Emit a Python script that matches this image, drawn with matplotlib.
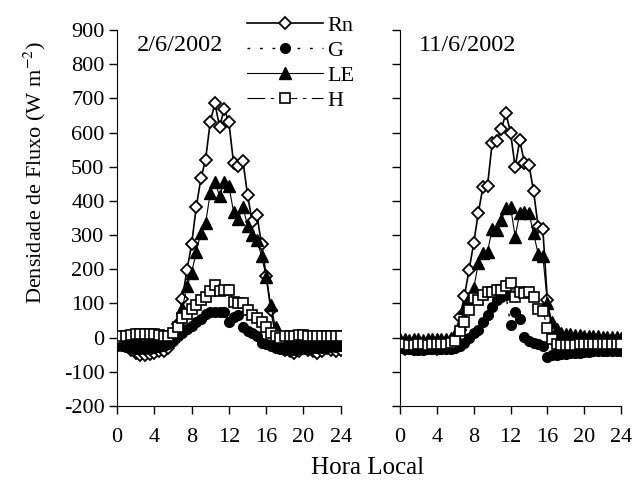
import numpy as np
import matplotlib
matplotlib.use("Agg")
import matplotlib.pyplot as plt

plt.rcParams['font.family'] = ['Liberation Serif', 'DejaVu Serif']
plt.rcParams['mathtext.fontset'] = 'stix'
plt.rcParams['axes.unicode_minus'] = False

# half-hourly local time
hora = np.arange(0, 24.5, 0.5)

# 2/6/2002
rn_a = [-15, -20, -25, -35, -45, -50, -50, -48, -45, -40, -38, -30,
        -10, 40, 114, 198, 273, 383, 466, 521, 632, 685, 617, 669,
        630, 510, 502, 518, 417, 339, 359, 273, 180, 80, 10, -20,
        -35, -40, -45, -40, -30, -35, -40, -45, -40, -30, -35, -40, -35]
g_a = [-25, -25, -28, -30, -32, -32, -33, -32, -30, -28, -25, -20,
       -10, 5, 15, 25, 35, 45, 55, 68, 76, 76, 76, 74,
       46, 60, 66, 32, 20, 15, 5, -16, -20, -25, -30, -33,
       -35, -35, -35, -33, -32, -32, -30, -30, -30, -28, -28, -27, -25]
le_a = [-10, -10, -12, -12, -15, -15, -15, -12, -12, -10, -10, -5,
        5, 20, 86, 150, 190, 251, 307, 334, 424, 456, 414, 456,
        443, 368, 346, 383, 327, 300, 286, 239, 178, 95, 30, 5,
        -5, -5, -8, -8, -10, -10, -10, -8, -8, -10, -10, -10, -10]
h_a = [0, 5, 5, 8, 10, 10, 12, 12, 10, 8, 5, 5,
       15, 30, 57, 70, 85, 95, 110, 120, 135, 154, 135, 139,
       140, 105, 101, 100, 80, 65, 57, 46, 30, 13, 5, 0,
       5, 5, 5, 8, 8, 5, 5, 5, 5, 5, 5, 5, 5]

# 11/6/2002
rn_b = [-30, -32, -30, -33, -30, -32, -30, -30, -32, -30, -28, -25,
        -10, 60, 122, 198, 276, 364, 440, 444, 568, 576, 610, 656,
        600, 498, 578, 512, 505, 429, 324, 318, 110, 20, -20, -35,
        -40, -40, -38, -38, -36, -36, -35, -35, -36, -35, -35, -35, -35]
g_b = [-30, -32, -33, -35, -35, -35, -34, -34, -33, -33, -32, -32,
       -30, -25, -15, 0, 15, 22, 45, 66, 90, 110, 120, 125,
       37, 76, 56, 3, -10, -15, -20, -25, -56, -52, -50, -48,
       -48, -46, -45, -44, -42, -42, -40, -40, -40, -39, -38, -38, -38]
le_b = [-5, -5, -6, -5, -5, -6, -5, -5, -5, -5, -5, -2,
        10, 40, 86, 115, 144, 217, 248, 251, 317, 315, 344, 378,
        383, 295, 365, 368, 365, 305, 244, 240, 100, 45, 25, 15,
        12, 10, 8, 8, 6, 5, 5, 5, 3, 3, 2, 1, 0]
h_b = [-20, -20, -22, -22, -20, -20, -22, -20, -20, -20, -18, -15,
       -10, 20, 46, 80, 115, 110, 125, 134, 134, 140, 140, 150,
       161, 120, 134, 130, 134, 118, 83, 79, 27, -5, -20, -22,
       -22, -22, -22, -20, -20, -20, -20, -20, -20, -20, -20, -20, -20]

datas = ['2/6/2002', '11/6/2002']
series = [(rn_a, g_a, le_a, h_a), (rn_b, g_b, le_b, h_b)]

fig = plt.figure(figsize=(6.43, 4.9), dpi=100)
ax1 = fig.add_axes([0.182, 0.1714, 0.348, 0.7674])
ax2 = fig.add_axes([0.622, 0.1714, 0.344, 0.7674])

for ax, (rn, g, le, h), dt in zip([ax1, ax2], series, datas):
    ax.plot(hora, rn, '-', color='black', lw=1.2, marker='D', ms=6.5,
            mfc='white', mec='black', mew=1.3, label='Rn', zorder=3)
    ax.plot(hora, g, color='black', lw=1.0, ls=(0, (2, 7)), marker='o', ms=7,
            mfc='black', mec='black', label='G', zorder=4)
    ax.plot(hora, le, '-', color='black', lw=0.8, marker='^', ms=8,
            mfc='black', mec='black', label='LE', zorder=5)
    ax.plot(hora, h, color='black', lw=0.8, ls=(0, (16, 5, 3, 5)), marker='s', ms=7,
            mfc='white', mec='black', mew=1.2, label='H', zorder=6)
    ax.set_xlim(0, 24)
    ax.set_ylim(-200, 900)
    ax.set_xticks(range(0, 25, 4))
    ax.set_yticks(range(-200, 901, 100))
    ax.spines['top'].set_visible(False)
    ax.spines['right'].set_visible(False)
    ax.tick_params(direction='out', length=5.5, width=1, labelsize=16)
    ax.tick_params(axis='x', pad=10)
    ax.text(2.1, 856, dt, fontsize=17.5, va='center', ha='left')

ax2.tick_params(axis='y', labelleft=False)

h_, l_ = ax1.get_legend_handles_labels()
fig.legend(h_, l_, loc='upper left', bbox_to_anchor=(247 / 643, 1 - 15 / 490),
           frameon=False, fontsize=16, numpoints=1, handlelength=3.4,
           handletextpad=0.22, labelspacing=0.2, borderpad=0, borderaxespad=0)

fig.text(35 / 643, 1 - 172 / 490, 'Densidade de Fluxo (W m$^{-2}$)', rotation=90,
         fontsize=16, ha='center', va='center')
fig.text(368 / 643, 1 - 468 / 490, 'Hora Local', fontsize=18, ha='center', va='center')

fig.savefig('out.png', dpi=100)
